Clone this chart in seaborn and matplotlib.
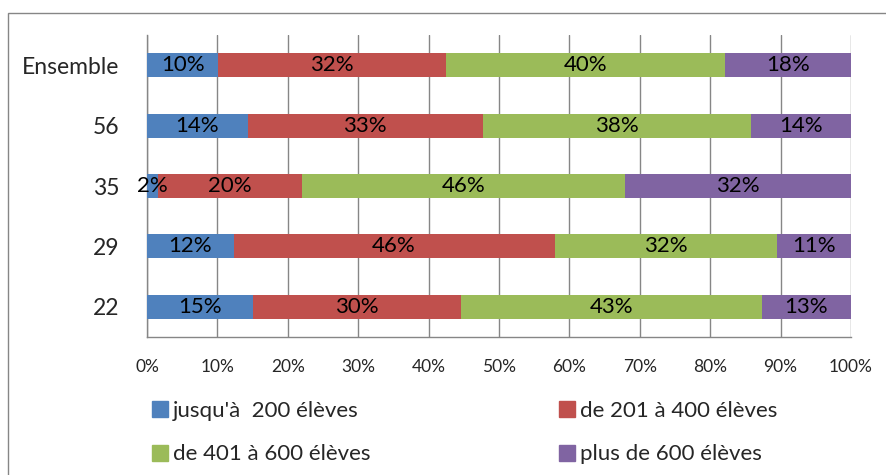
import seaborn as sns
import matplotlib.pyplot as plt
import matplotlib.patches as mpatches
import pandas as pd
import numpy as np

# Data (share of schools by size, per department)
categories = ['Ensemble', '56', '35', '29', '22']
series_names = ["jusqu'à  200 élèves", "de 201 à 400 élèves",
                "de 401 à 600 élèves", "plus de 600 élèves"]
upto_200 = [10.1, 14.3, 1.6, 12.3, 15.0]
from_201_400 = [32.4, 33.4, 20.35, 45.6, 29.6]
from_401_600 = [39.6, 38.1, 45.95, 31.6, 42.7]
over_600 = [17.9, 14.2, 32.1, 10.5, 12.7]
colors = ['#4F81BD', '#C0504D', '#9BBB59', '#8064A2']

series = [upto_200, from_201_400, from_401_600, over_600]

df = pd.DataFrame({'cat': categories})
cum = np.zeros(len(categories))
cum_cols = []
for name, vals in zip(series_names, series):
    cum = cum + np.array(vals)
    df[name] = cum
    cum_cols.append(name)

sns.set_style('white')
plt.rcParams['font.family'] = ['Lato', 'DejaVu Sans']

fig = plt.figure(figsize=(8.86, 4.75), dpi=100)
ax = fig.add_axes([147 / 886, 1 - 337 / 475, 704 / 886, 302 / 475])

# draw cumulative totals from the longest to the shortest (stacked look)
for name, color in reversed(list(zip(cum_cols, colors))):
    sns.barplot(data=df, x=name, y='cat', order=categories, orient='h',
                color=color, width=0.4, saturation=1, ax=ax, zorder=3,
                linewidth=0)

# segment labels
for i, cat in enumerate(categories):
    left = 0
    for vals in series:
        v = vals[i]
        ax.text(left + v / 2, i, f"{int(v + 0.5)}%", ha='center', va='center',
                fontsize=16, color='black', zorder=5)
        left += v

grid_c = '#868686'
ax.set_xlim(0, 100)
ax.set_ylim(4.5, -0.5)
ax.set_xticks(np.arange(0, 101, 10))
ax.set_xticklabels([f"{t}%" for t in range(0, 101, 10)], fontsize=12.5)
ax.set_yticks(range(len(categories)))
ax.set_yticklabels(categories, fontsize=16.5)
ax.set_yticks(np.arange(-0.5, 5, 1), minor=True)
ax.tick_params(axis='y', which='major', length=0, pad=20)
ax.tick_params(axis='y', which='minor', length=5, color=grid_c, width=1)
ax.tick_params(axis='x', which='major', length=5, color=grid_c, width=1, pad=11)
ax.xaxis.grid(True, color=grid_c, linewidth=1, zorder=0)
ax.yaxis.grid(False)
ax.set_axisbelow(True)
for s in ['top', 'right']:
    ax.spines[s].set_visible(False)
for s in ['left', 'bottom']:
    ax.spines[s].set_color(grid_c)
    ax.spines[s].set_linewidth(1)
ax.set_xlabel('')
ax.set_ylabel('')

# legend, filled column-wise
handles = [mpatches.Patch(color=c) for c in colors]
order = [0, 2, 1, 3]
fig.legend([handles[k] for k in order], [series_names[k] for k in order],
           ncol=2, loc='upper left', bbox_to_anchor=(152 / 886, 1 - 401 / 475),
           frameon=False, fontsize=16, handlelength=0.73, handleheight=0.73,
           handletextpad=0.2, columnspacing=8.5, labelspacing=1.05,
           borderpad=0, borderaxespad=0)

# outer chart frame
fig.patches.append(mpatches.Rectangle((8 / 886, -0.1), 1.2, 1.1 - 13 / 475,
                                      transform=fig.transFigure, fill=False,
                                      edgecolor=grid_c, linewidth=1))

fig.savefig('out.png', dpi=100)
